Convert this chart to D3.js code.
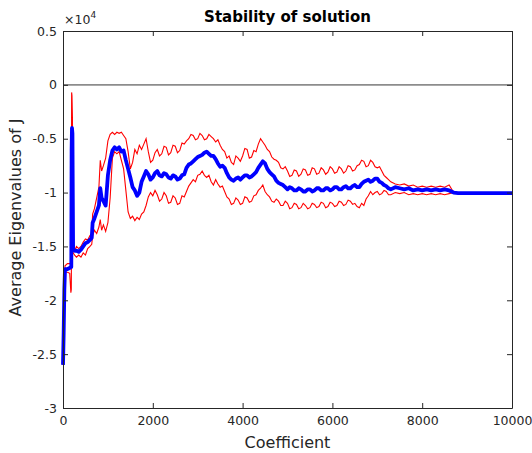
<!DOCTYPE html>
<html>
<head>
<meta charset="utf-8">
<script src="https://cdn.jsdelivr.net/npm/d3@7"></script>
<style>
  body { margin: 0; background: #fff; }
  text { font-family: "DejaVu Sans", sans-serif; }
</style>
</head>
<body>
<div id="chart"></div>
<script>
// coefficient index (x) and eigenvalue averages in units of 1e4
const coef = [0, 15, 30, 45, 100, 150, 175, 185, 192, 200, 210, 225, 260, 300, 350, 400, 450, 500, 550, 600,
  640, 660, 700, 750, 800, 830, 860, 900, 950, 1000, 1050, 1100, 1150, 1200, 1250, 1300, 1350, 1400, 1450, 1500,
  1550, 1600, 1650, 1700, 1750, 1800, 1850, 1900, 1950,
  2000, 2050, 2100, 2150, 2200, 2250, 2300, 2350, 2400, 2450,
  2500, 2550, 2600, 2650, 2700, 2750, 2800, 2850, 2900, 2950,
  3000, 3050, 3100, 3150, 3200, 3250, 3300, 3350, 3400, 3450,
  3500, 3550, 3600, 3650, 3700, 3750, 3800, 3850, 3900, 3950,
  4000, 4050, 4100, 4150, 4200, 4250, 4300, 4350, 4400, 4450,
  4500, 4550, 4600, 4650, 4700, 4750, 4800, 4850, 4900, 4950,
  5000, 5050, 5100, 5150, 5200, 5250, 5300, 5350, 5400, 5450,
  5500, 5550, 5600, 5650, 5700, 5750, 5800, 5850, 5900, 5950,
  6000, 6050, 6100, 6150, 6200, 6250, 6300, 6350, 6400, 6450,
  6500, 6550, 6600, 6650, 6700, 6750, 6800, 6850, 6900, 6950,
  7000, 7050, 7100, 7150, 7200, 7250, 7300,
  7400, 7500, 7600, 7700, 7800, 7900, 8000, 8100, 8200, 8300, 8400, 8500, 8600, 8700, 8800, 10000];

const meanVals = [-2.60, -2.30, -1.90, -1.71, -1.71, -1.70, -1.69, -1.69, -0.60, -0.40, -0.45, -1.53, -1.54, -1.54, -1.55, -1.53, -1.50, -1.47, -1.46, -1.44,
  -1.42, -1.28, -1.24, -1.18, -1.12, -0.96, -1.05, -1.08, -1.12, -0.84, -0.70, -0.61, -0.58, -0.60, -0.58, -0.62, -0.61, -0.70, -0.78, -0.86,
  -0.95, -0.98, -1.03, -1.00, -0.90, -0.85, -0.80, -0.83, -0.88,
  -0.86, -0.82, -0.80, -0.84, -0.85, -0.82, -0.83, -0.86, -0.87, -0.84,
  -0.85, -0.88, -0.87, -0.84, -0.83, -0.77, -0.74, -0.73, -0.71, -0.69,
  -0.67, -0.66, -0.65, -0.63, -0.62, -0.64, -0.66, -0.66, -0.69, -0.73,
  -0.76, -0.75, -0.77, -0.82, -0.86, -0.88, -0.89, -0.87, -0.86, -0.88,
  -0.86, -0.84, -0.84, -0.86, -0.85, -0.83, -0.81, -0.77, -0.74, -0.71,
  -0.73, -0.78, -0.81, -0.83, -0.85, -0.89, -0.91, -0.92, -0.93, -0.95,
  -0.97, -0.95, -0.96, -0.98, -0.98, -0.96, -0.97, -0.99, -0.99, -0.97,
  -0.97, -0.99, -0.98, -0.96, -0.96, -0.98, -0.98, -0.96, -0.96, -0.98,
  -0.97, -0.95, -0.95, -0.97, -0.97, -0.95, -0.94, -0.96, -0.96, -0.94,
  -0.93, -0.95, -0.95, -0.92, -0.90, -0.89, -0.88, -0.90, -0.89, -0.87,
  -0.87, -0.90, -0.91, -0.93, -0.94, -0.96, -0.97,
  -0.95, -0.96, -0.97, -0.96, -0.98, -0.97, -0.98, -0.97, -0.98, -0.97, -0.98, -0.97, -0.98, -1.00, -1.005, -1.005];

const upperVals = [-2.60, -2.30, -1.90, -1.68, -1.66, -1.66, -1.65, -1.64, -0.07, -0.10, -0.30, -1.52, -1.54, -1.50, -1.52, -1.50, -1.46, -1.43, -1.44, -1.40,
  -1.38, -1.20, -1.15, -1.05, -0.95, -0.70, -0.80, -0.75, -0.68, -0.52, -0.46, -0.44, -0.46, -0.44, -0.45, -0.44, -0.47, -0.50, -0.62, -0.78,
  -0.72, -0.60, -0.64, -0.56, -0.60, -0.55, -0.50, -0.62, -0.72,
  -0.70, -0.63, -0.60, -0.66, -0.64, -0.57, -0.58, -0.65, -0.63, -0.56,
  -0.57, -0.63, -0.61, -0.54, -0.55, -0.52, -0.50, -0.46, -0.47, -0.51,
  -0.50, -0.45, -0.47, -0.51, -0.50, -0.46, -0.48, -0.50, -0.53, -0.51,
  -0.56, -0.60, -0.62, -0.68, -0.66, -0.72, -0.74, -0.66, -0.68, -0.71,
  -0.66, -0.59, -0.60, -0.68, -0.67, -0.61, -0.62, -0.55, -0.50, -0.53,
  -0.56, -0.60, -0.62, -0.67, -0.69, -0.70, -0.72, -0.77, -0.78, -0.76,
  -0.80, -0.85, -0.84, -0.79, -0.80, -0.85, -0.83, -0.78, -0.79, -0.84,
  -0.83, -0.77, -0.78, -0.83, -0.82, -0.77, -0.79, -0.83, -0.81, -0.76,
  -0.78, -0.82, -0.81, -0.76, -0.78, -0.82, -0.80, -0.75, -0.76, -0.80,
  -0.79, -0.75, -0.74, -0.70, -0.71, -0.76, -0.75, -0.70, -0.72, -0.76,
  -0.77, -0.76, -0.80, -0.84, -0.86, -0.88, -0.90,
  -0.92, -0.93, -0.92, -0.94, -0.93, -0.95, -0.94, -0.95, -0.94, -0.95, -0.94, -0.95, -0.93, -1.00, -1.005, -1.005];

const lowerVals = [-2.60, -2.30, -1.90, -1.74, -1.74, -1.75, -1.93, -1.90, -1.10, -0.73, -0.80, -1.56, -1.58, -1.60, -1.58, -1.60, -1.56, -1.58, -1.52, -1.50,
  -1.48, -1.40, -1.35, -1.38, -1.32, -1.25, -1.35, -1.30, -1.36, -1.28, -1.05, -0.68, -0.62, -0.64, -0.62, -0.70, -0.78, -0.98, -1.18, -1.24,
  -1.22, -1.26, -1.23, -1.25, -1.20, -1.18, -1.12, -1.04, -1.00,
  -1.03, -0.98, -1.02, -1.08, -1.06, -1.00, -1.03, -1.10, -1.09, -1.03,
  -1.05, -1.11, -1.10, -1.03, -1.04, -0.99, -0.94, -0.91, -0.88, -0.90,
  -0.84, -0.83, -0.80, -0.84, -0.86, -0.84, -0.90, -0.93, -0.88, -0.92,
  -0.95, -0.94, -0.99, -1.04, -1.06, -1.11, -1.10, -1.05, -1.07, -1.11,
  -1.10, -1.04, -1.05, -1.09, -1.08, -1.03, -1.02, -0.98, -0.96, -0.93,
  -0.99, -1.02, -1.04, -1.08, -1.09, -1.06, -1.08, -1.12, -1.12, -1.08,
  -1.10, -1.15, -1.14, -1.10, -1.11, -1.15, -1.14, -1.10, -1.12, -1.15,
  -1.14, -1.10, -1.11, -1.14, -1.13, -1.09, -1.10, -1.14, -1.13, -1.09,
  -1.10, -1.13, -1.12, -1.08, -1.09, -1.12, -1.11, -1.07, -1.08, -1.11,
  -1.10, -1.13, -1.14, -1.10, -1.12, -1.06, -1.03, -0.99, -1.02, -1.00,
  -0.99, -1.02, -1.01, -0.98, -0.99, -1.02, -1.02,
  -1.00, -1.01, -1.00, -1.02, -1.01, -1.02, -1.01, -1.02, -1.01, -1.02, -1.01, -1.02, -1.01, -1.00, -1.005, -1.005];

const xTicks = [0, 2000, 4000, 6000, 8000, 10000];
const yTicks = [0.5, 0, -0.5, -1, -1.5, -2, -2.5, -3];
const yTickLabels = ['0.5', '0', '-0.5', '-1', '-1.5', '-2', '-2.5', '-3'];

const width = 532;
const height = 453;
const margin = { top: 31, right: 20, bottom: 45, left: 63 };

const svg = d3.select('#chart')
  .append('svg')
  .attr('width', width)
  .attr('height', height);

const x = d3.scaleLinear()
  .domain([0, 10000])
  .range([margin.left, width - margin.right]);

const y = d3.scaleLinear()
  .domain([-3, 0.5])
  .range([height - margin.bottom, margin.top]);

const axisColor = '#262626';

// zero reference line
svg.append('line')
  .attr('x1', x(0)).attr('x2', x(10000))
  .attr('y1', y(0)).attr('y2', y(0))
  .attr('stroke', '#8c8c8c')
  .attr('stroke-width', 1.6);

const pts = coef.map((c, i) => ({ c, m: meanVals[i], u: upperVals[i], l: lowerVals[i] }));

const line = key => d3.line().x(d => x(d.c)).y(d => y(d[key]));

svg.append('path').datum(pts)
  .attr('d', line('u'))
  .attr('fill', 'none').attr('stroke', '#ff0000').attr('stroke-width', 1.1);

svg.append('path').datum(pts)
  .attr('d', line('l'))
  .attr('fill', 'none').attr('stroke', '#ff0000').attr('stroke-width', 1.1);

svg.append('path').datum(pts)
  .attr('d', line('m'))
  .attr('fill', 'none').attr('stroke', '#0000ff').attr('stroke-width', 3.8)
  .attr('stroke-linejoin', 'round');

// axes (box, ticks pointing inward)
const styleAxis = g => {
  g.selectAll('path').attr('stroke', axisColor);
  g.selectAll('line').attr('stroke', axisColor);
  g.selectAll('text').attr('fill', axisColor)
    .style('font-size', '12.5px')
    .style('font-family', '"DejaVu Sans", sans-serif');
};

svg.append('g')
  .attr('transform', `translate(0, ${height - margin.bottom})`)
  .call(d3.axisBottom(x).tickValues(xTicks).tickSizeInner(-5).tickSizeOuter(0).tickPadding(8).tickFormat(d3.format('d')))
  .call(styleAxis);

svg.append('g')
  .attr('transform', `translate(0, ${margin.top})`)
  .call(d3.axisTop(x).tickValues(xTicks).tickSizeInner(-5).tickSizeOuter(0).tickFormat(''))
  .call(styleAxis);

svg.append('g')
  .attr('transform', `translate(${margin.left}, 0)`)
  .call(d3.axisLeft(y).tickValues(yTicks).tickSizeInner(-5).tickSizeOuter(0).tickPadding(6)
    .tickFormat((d, i) => yTickLabels[i]))
  .call(styleAxis);

svg.append('g')
  .attr('transform', `translate(${width - margin.right}, 0)`)
  .call(d3.axisRight(y).tickValues(yTicks).tickSizeInner(-5).tickSizeOuter(0).tickFormat(''))
  .call(styleAxis);

// exponent label
const expo = svg.append('text')
  .attr('x', margin.left + 1)
  .attr('y', 24)
  .attr('fill', axisColor)
  .style('font-size', '12.5px');
expo.append('tspan').text('\u00d710');
expo.append('tspan').attr('dy', -6).style('font-size', '9px').text('4');

// title
svg.append('text')
  .attr('x', (margin.left + width - margin.right) / 2)
  .attr('y', 22)
  .attr('text-anchor', 'middle')
  .attr('fill', '#000')
  .style('font-size', '15px')
  .style('font-weight', 'bold')
  .text('Stability of solution');

// axis labels
svg.append('text')
  .attr('x', (margin.left + width - margin.right) / 2)
  .attr('y', 448)
  .attr('text-anchor', 'middle')
  .attr('fill', axisColor)
  .style('font-size', '16px')
  .text('Coefficient');

svg.append('text')
  .attr('transform', `translate(21, ${(margin.top + height - margin.bottom) / 2 - 2}) rotate(-90)`)
  .attr('text-anchor', 'middle')
  .attr('fill', axisColor)
  .style('font-size', '16px')
  .text('Average Eigenvalues of J');
</script>
</body>
</html>
